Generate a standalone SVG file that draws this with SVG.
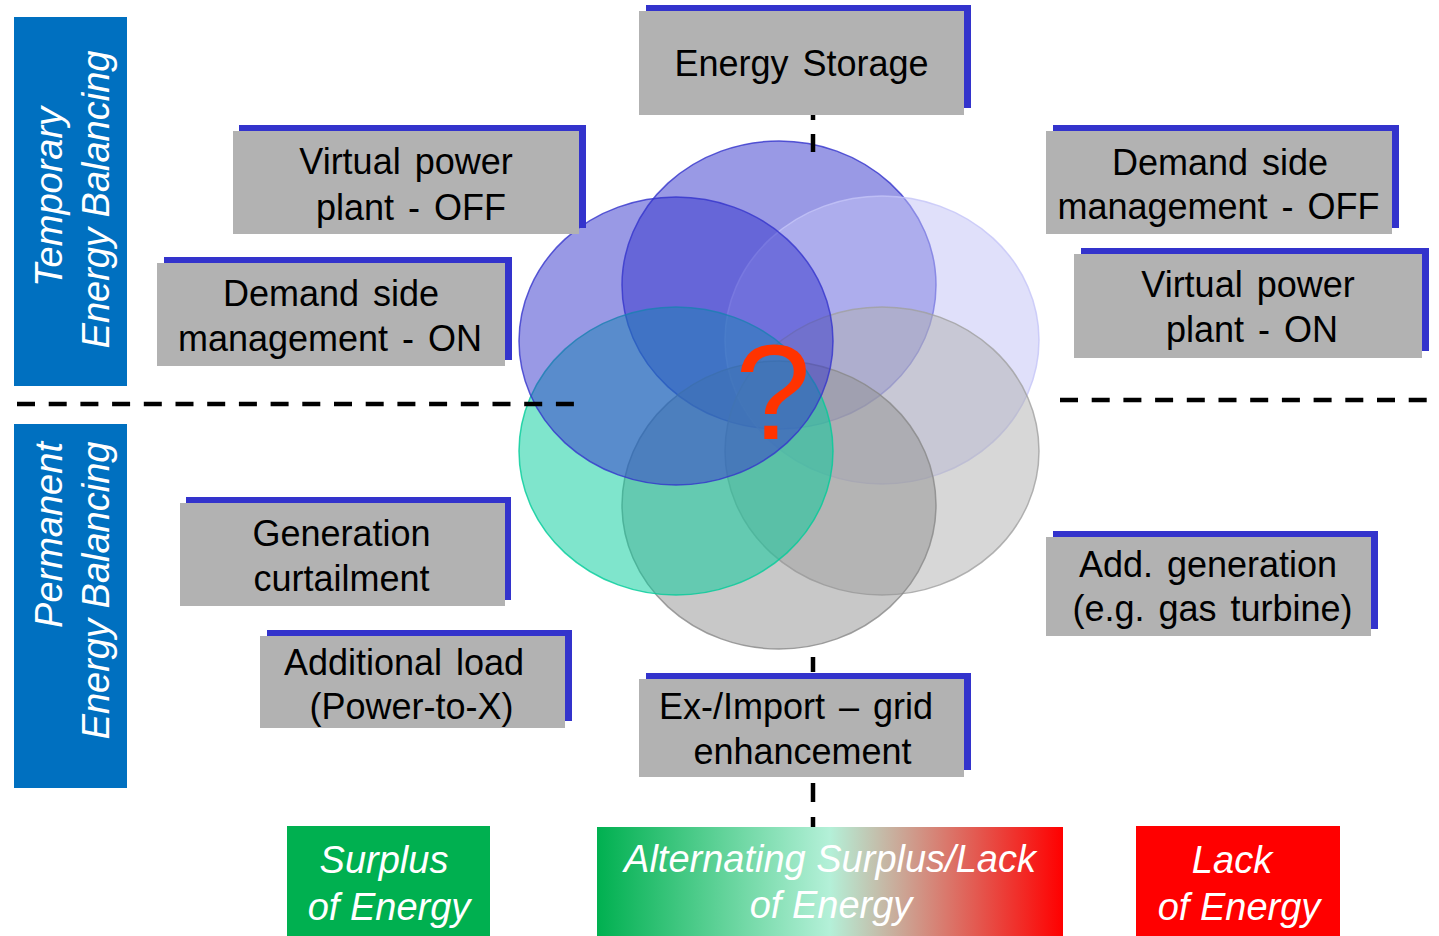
<svg xmlns="http://www.w3.org/2000/svg" width="1439" height="936" viewBox="0 0 1439 936">
<defs>
<linearGradient id="alt" x1="0" y1="0" x2="1" y2="0">
<stop offset="0" stop-color="#00b050"/>
<stop offset="0.5" stop-color="#b4f0d8"/>
<stop offset="1" stop-color="#ff0000"/>
</linearGradient>
<style>
.sh{fill:#3333cc}
.bx{fill:#b2b2b2}
.t{font-family:"Liberation Sans",Arial,sans-serif;font-size:36px;fill:#000;text-anchor:middle;word-spacing:4px}
.w{font-family:"Liberation Sans",Arial,sans-serif;font-size:38px;font-style:italic;fill:#fff;text-anchor:middle}
.c{fill-opacity:0.5;stroke-width:1.5;stroke-opacity:0.8}
.d{stroke:#000;stroke-width:4.5;fill:none}
</style>
</defs>
<rect width="1439" height="936" fill="#fff"/>

<g id="venn">
<ellipse class="c" cx="779" cy="285" rx="157" ry="144" fill="#3333cc" stroke="#3333cc"/>
<ellipse class="c" cx="882" cy="340" rx="157" ry="144" fill="#c2c2f5" stroke="#c4c4f8"/>
<ellipse class="c" cx="882" cy="451" rx="157" ry="144" fill="#b0b0b0" stroke="#a0a0a0"/>
<ellipse class="c" cx="779" cy="505" rx="157" ry="144" fill="#929292" stroke="#888888"/>
<ellipse class="c" cx="676" cy="451" rx="157" ry="144" fill="#00cc99" stroke="#00cc99"/>
<ellipse class="c" cx="676" cy="341" rx="157" ry="144" fill="#3333cc" stroke="#3333cc"/>
</g>

<g id="connectors">
<line class="d" x1="17" y1="404" x2="574" y2="404" stroke-dasharray="18 13.7"/>
<line class="d" x1="1060" y1="400" x2="1439" y2="400" stroke-dasharray="18 13.7"/>
<path class="d" d="M813 115V120M813 134V152M813 657V672M813 783V802M813 817V827"/>
</g>

<g id="temporary">
<rect x="14" y="17" width="113" height="369" fill="#0070c0"/>
<g transform="translate(0,0) rotate(-90)">
<text class="w" x="-197" y="62">Temporary</text>
<text class="w" x="-199.5" y="109">Energy Balancing</text>
</g>
</g>

<g id="permanent">
<rect x="14" y="424" width="113" height="364" fill="#0070c0"/>
<g transform="rotate(-90)">
<text class="w" x="-535" y="62">Permanent</text>
<text class="w" x="-590.5" y="109">Energy Balancing</text>
</g>
</g>

<g id="energy-storage">
<rect class="sh" x="646" y="5" width="325" height="103"/>
<rect class="bx" x="639" y="11" width="325" height="104"/>
<text class="t" x="801.5" y="76">Energy Storage</text>
</g>

<g id="vpp-off">
<rect class="sh" x="239" y="125" width="347" height="103"/>
<rect class="bx" x="233" y="131" width="346" height="103"/>
<text class="t" x="406" y="174">Virtual power</text>
<text class="t" x="411" y="220">plant - OFF</text>
</g>

<g id="dsm-on">
<rect class="sh" x="164" y="257" width="348" height="103"/>
<rect class="bx" x="157" y="263" width="348" height="103"/>
<text class="t" x="331" y="306">Demand side</text>
<text class="t" x="330" y="351">management - ON</text>
</g>

<g id="dsm-off">
<rect class="sh" x="1053" y="125" width="346" height="103"/>
<rect class="bx" x="1046" y="131" width="346" height="103"/>
<text class="t" x="1220" y="175">Demand side</text>
<text class="t" x="1218.5" y="219">management - OFF</text>
</g>

<g id="vpp-on">
<rect class="sh" x="1081" y="248" width="348" height="103"/>
<rect class="bx" x="1074" y="254" width="348" height="104"/>
<text class="t" x="1248" y="297">Virtual power</text>
<text class="t" x="1252" y="342">plant - ON</text>
</g>

<g id="gen-curtailment">
<rect class="sh" x="186" y="497" width="325" height="103"/>
<rect class="bx" x="180" y="503" width="325" height="103"/>
<text class="t" x="341.5" y="546">Generation</text>
<text class="t" x="341.5" y="591">curtailment</text>
</g>

<g id="additional-load">
<rect class="sh" x="267" y="630" width="305" height="91"/>
<rect class="bx" x="260" y="636" width="305" height="92"/>
<text class="t" x="404" y="675">Additional load</text>
<text class="t" x="411.5" y="719">(Power-to-X)</text>
</g>

<g id="add-generation">
<rect class="sh" x="1053" y="531" width="325" height="98"/>
<rect class="bx" x="1046" y="537" width="325" height="99"/>
<text class="t" x="1208" y="577">Add. generation</text>
<text class="t" x="1212.5" y="621">(e.g. gas turbine)</text>
</g>

<g id="ex-import">
<rect class="sh" x="646" y="673" width="325" height="97"/>
<rect class="bx" x="639" y="679" width="325" height="98"/>
<text class="t" x="796" y="719">Ex-/Import – grid</text>
<text class="t" x="802.5" y="764">enhancement</text>
</g>

<g id="surplus">
<rect x="287" y="826" width="203" height="110" fill="#00b050"/>
<text class="w" x="384" y="873">Surplus</text>
<text class="w" x="389" y="920">of Energy</text>
</g>

<g id="alternating">
<rect x="597" y="827" width="466" height="109" fill="url(#alt)"/>
<text class="w" x="830" y="872">Alternating Surplus/Lack</text>
<text class="w" x="831" y="918">of Energy</text>
</g>

<g id="lack">
<rect x="1136" y="826" width="204" height="110" fill="#ff0000"/>
<text class="w" x="1232" y="873">Lack</text>
<text class="w" x="1239" y="920">of Energy</text>
</g>

<g id="question">
<text x="773" y="439" font-family="Liberation Sans,Arial,sans-serif" font-size="136" fill="#ff3300" text-anchor="middle">?</text>
</g>
</svg>
